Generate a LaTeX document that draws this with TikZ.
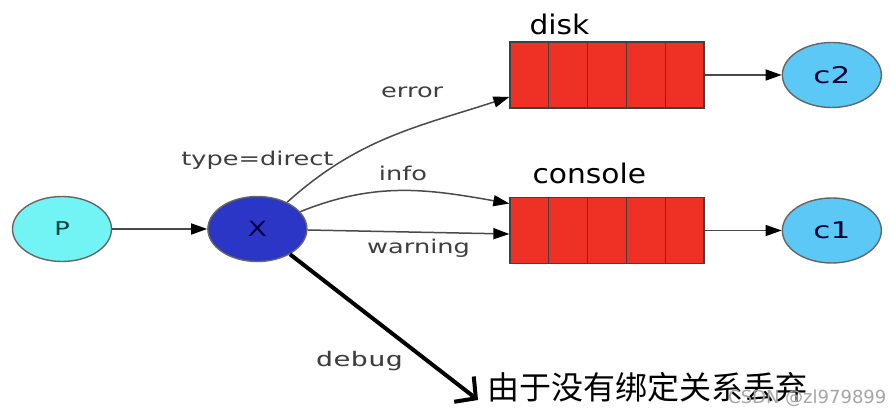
\documentclass[tikz,border=0pt]{standalone}
\usepackage{fontspec}
\setmainfont{DejaVu Sans}
\newfontfamily\lblfont[FakeStretch=1.35]{DejaVu Sans}
\newfontfamily\qfont[FakeStretch=1.1]{DejaVu Sans}
\newfontfamily\dbgfont[FakeStretch=1.45]{DejaVu Sans Mono}
\newfontfamily\cjkfont{Noto Sans CJK SC}
\usepackage{xcolor}
\usetikzlibrary{shapes.geometric, arrows.meta, positioning, calc}

\definecolor{pcyan}{HTML}{72F4F4}
\definecolor{xblue}{HTML}{2C36C6}
\definecolor{cblue}{HTML}{5CC8F6}
\definecolor{qred}{HTML}{EE3124}
\definecolor{edgegray}{HTML}{4A4A4A}
\definecolor{lblgray}{HTML}{3E3E3E}

\begin{document}
\begin{tikzpicture}[x=1pt, y=-1pt,
  peer/.style={ellipse, draw=black!60, line width=1.4pt, minimum width=99pt,
               minimum height=65pt, inner sep=0pt},
  queue/.style={draw=black!75, line width=1.3pt, fill=qred, minimum width=194pt,
                minimum height=66pt, inner sep=0pt},
  qname/.style={font=\qfont\fontsize{27}{30}\selectfont, anchor=base west, inner sep=0pt},
  arrow/.style={-{Triangle[length=16pt,width=11pt,black]}, draw=edgegray, line width=1.5pt},
  label/.style={font=\lblfont\fontsize{19}{21}\selectfont, text=lblgray, inner sep=1pt},
  debugarrow/.style={-{Straight Barb[length=15pt,width=32pt,line width=4pt]}, line width=4pt},
  node distance=95pt and 77pt
]
  \fill[white] (0,0) rectangle (895,411);
  \useasboundingbox (0,0) rectangle (895,411);

  \node[peer, fill=pcyan, font=\lblfont\fontsize{19}{21}\selectfont, text=teal!50!black] (p) at (62,229) {P};
  \node[peer, fill=xblue, right=95pt of p, font=\lblfont\fontsize{21}{23}\selectfont, text=blue!25!black] (x) {X};
  \node[queue] (dq) at (607,75) {};
  \node[queue] (cq) at (607,230.5) {};
  \node[peer, fill=cblue, right=77pt of dq, font=\lblfont\fontsize{23}{25}\selectfont, text=blue!20!black] (c2) {c2};
  \node[peer, fill=cblue, right=77pt of cq, font=\lblfont\fontsize{23}{25}\selectfont, text=blue!20!black] (c1) {c1};

  \foreach \q in {dq,cq}
    \foreach \i in {1,...,4}
      \draw[black!75, line width=1.3pt] ($(\q.north west)!\i/5!(\q.north east)$) -- ($(\q.south west)!\i/5!(\q.south east)$);

  \node[qname] (disk) at ([xshift=20pt,yshift=7pt]dq.north west) {disk};
  \node[qname] (console) at ([xshift=23pt,yshift=13pt]cq.north west) {console};
  \node[label, above=25pt of x] (type) {type=direct};

  \node[font=\cjkfont\fontsize{32}{34}\selectfont, anchor=west, inner sep=0pt] (drop) at (487,387) {由于没有绑定关系丢弃};
  \node[font=\fontsize{18}{20}\selectfont, text=black!35, anchor=west, inner sep=0pt] (mark) at (728,398) {CSDN @zl979899};

  \draw[arrow] (p) -- (x);
  \draw[arrow] (dq) -- (c2);
  \draw[arrow] (cq) -- (c1);
  \draw[arrow] (x) to[out=42, in=198] node[label, above=29pt, pos=.6] {error} ([yshift=-22pt]dq.west);
  \draw[arrow] (x) to[out=22, in=170] node[label, above=8pt, pos=.5] {info} ([yshift=27pt]cq.west);
  \draw[arrow] (x) -- node[label, below=5pt, pos=.55] {warning} ([yshift=-3.5pt]cq.west);
  \draw[debugarrow] (x) -- node[font=\dbgfont\fontsize{20}{22}\selectfont, text=lblgray, pos=.63, below left=0pt] {debug} ([xshift=-9pt,yshift=-13pt]drop.west);
\end{tikzpicture}
\end{document}
